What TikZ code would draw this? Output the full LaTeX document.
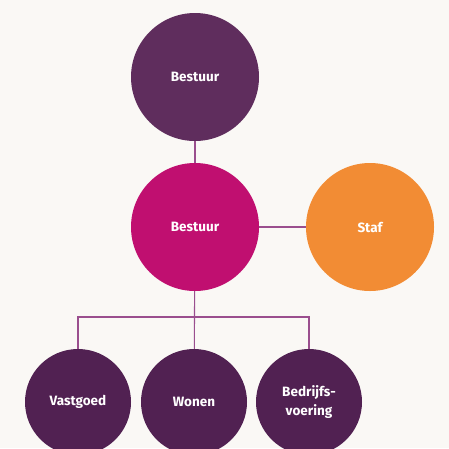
\documentclass[tikz,border=0pt]{standalone}
\usepackage{fontspec}
\setmainfont{Fira Sans}
\usepackage{xcolor}
\usetikzlibrary{positioning}
\definecolor{bgcol}{HTML}{FAF8F5}
\definecolor{plum}{HTML}{5F2D5D}
\definecolor{berry}{HTML}{C00F70}
\definecolor{oranje}{HTML}{F28C34}
\definecolor{aubergine}{HTML}{512152}
\definecolor{linkcol}{HTML}{9A4E8E}

\begin{document}
\begin{tikzpicture}[x=1pt, y=-1pt, node distance={175pt}, main/.style = {circle, minimum size=128pt, inner sep=0pt, text=white, font=\bfseries\fontsize{13.5}{19.5}\selectfont, align=center}, small/.style = {main, minimum size=106pt}, link/.style = {linkcol, line width=1.1pt}]
\fill[bgcol] (0,0) rectangle (449,448);
\clip (0,0) rectangle (449,448);
\node[main,fill=plum] (top) at (195,77) {Bestuur};
\node[main,fill=berry] (bestuur) at (195,227) {Bestuur};
\node[main,fill=oranje] (staf) [right of=bestuur] {Staf};
\node[small,fill=aubergine] (wonen) at (194,402) {Wonen};
\node[small,fill=aubergine] (vastgoed) [left of=wonen, node distance={116pt}] {Vastgoed};
\node[small,fill=aubergine] (bedrijf) [right of=wonen, node distance={115pt}] {Bedrijfs-\\voering};
\coordinate (bus) at (194,317);
\draw[link] (top) -- (bestuur);
\draw[link] (bestuur) -- (staf);
\draw[link] (bestuur) -- (wonen);
\draw[link] (vastgoed) |- (bus) -| (bedrijf);
\end{tikzpicture}
\end{document}
